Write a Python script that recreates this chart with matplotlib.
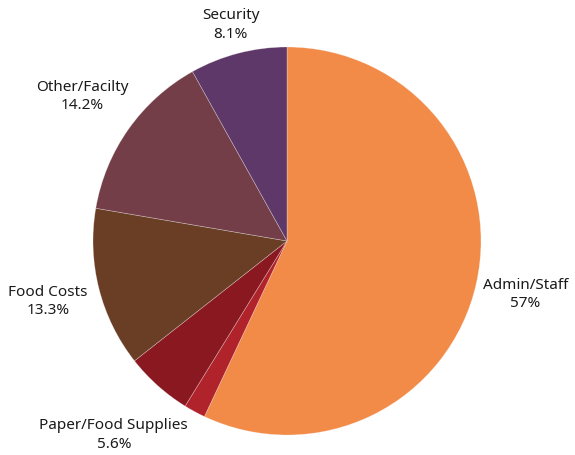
import numpy as np
import matplotlib
matplotlib.use("Agg")
import matplotlib.pyplot as plt

categories = ["Admin/Staff", "Supplies", "Paper/Food Supplies", "Food Costs", "Other/Facilty", "Security"]
values = [57.0, 1.8, 5.6, 13.3, 14.2, 8.1]
show_label = [True, False, True, True, True, True]
colors = ["#F28B48", "#B0232A", "#8A1820", "#6A3D25", "#743E48", "#5E3868"]

W, H, DPI = 575, 455, 100
cx, cy, R = 287, 241, 194

fig = plt.figure(figsize=(W / DPI, H / DPI), dpi=DPI)
ax = fig.add_axes([0, 0, 1, 1])

wedges, _ = ax.pie(values, colors=colors, startangle=90, counterclock=False,
                   radius=1.0, center=(0, 0), frame=True,
                   wedgeprops=dict(edgecolor=(1, 1, 1, 0.35), linewidth=0.5))
ax.set_xlim(-cx / R, (W - cx) / R)
ax.set_ylim(-(H - cy) / R, cy / R)
ax.axis("off")

label_dist = {"Admin/Staff": 1.26, "Paper/Food Supplies": 1.34, "Food Costs": 1.27,
              "Other/Facilty": 1.29, "Security": 1.15}

for w, name, v, show in zip(wedges, categories, values, show_label):
    if not show:
        continue
    ang = np.deg2rad((w.theta1 + w.theta2) / 2)
    d = label_dist.get(name, 1.2)
    txt = f"{name}\n{v:g}%"
    ax.text(d * np.cos(ang), d * np.sin(ang), txt, ha="center", va="center",
            fontsize=11, family=["Noto Sans", "DejaVu Sans"], color="#1a1a1a",
            linespacing=1.3, multialignment="center")

fig.savefig("out.png", dpi=DPI)
